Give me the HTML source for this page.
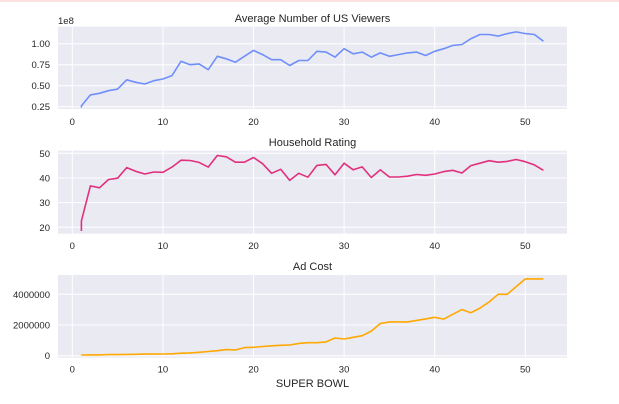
<!DOCTYPE html>
<html><head><meta charset="utf-8"><style>
body{margin:0;background:#fff;}
svg{display:block;font-family:"Liberation Sans",sans-serif;}
</style></head><body>
<svg id="c" width="619" height="404"></svg>
<script>
const superBowls=[1,1,2,3,4,5,6,7,8,9,10,11,12,13,14,15,16,17,18,19,20,21,22,23,24,25,26,27,28,29,30,31,32,33,34,35,36,37,38,39,40,41,42,43,44,45,46,47,48,49,50,51,52];
const viewers=[0.24,0.26,0.39,0.41,0.44,0.46,0.57,0.54,0.52,0.56,0.58,0.62,0.79,0.75,0.76,0.69,0.85,0.82,0.78,0.85,0.92,0.87,0.81,0.81,0.74,0.80,0.80,0.91,0.90,0.84,0.94,0.88,0.90,0.84,0.89,0.85,0.87,0.89,0.90,0.86,0.91,0.94,0.98,0.99,1.06,1.11,1.11,1.09,1.12,1.14,1.12,1.11,1.03];
const rating=[18.5,22.6,36.8,36,39.4,39.9,44.2,42.7,41.6,42.4,42.3,44.4,47.2,47.1,46.3,44.4,49.1,48.6,46.4,46.4,48.3,45.8,41.9,43.5,39,41.9,40.3,45.1,45.5,41.3,46,43.3,44.5,40.2,43.3,40.4,40.4,40.7,41.4,41.1,41.6,42.6,43.1,42,45,46,47,46.4,46.7,47.5,46.6,45.3,43.1];
const adCost=[37500,42500,54000,55000,78000,72000,86000,88000,103500,107000,110000,125000,162000,185000,222000,275000,324300,400000,368200,525000,550000,600000,645000,675000,700000,800000,850000,850000,900000,1150000,1085000,1200000,1300000,1600000,2100000,2200000,2200000,2200000,2302200,2400000,2500000,2385365,2699963,3000000,2800000,3100000,3500000,4000000,4000000,4500000,5000000,5000000,5000000];
const xTicks=[0,10,20,30,40,50];
const vTicks=[0.25,0.50,0.75,1.00];
const rTicks=[20,30,40,50];
const cTicks=[0,2000000,4000000];

const svg=document.getElementById('c');
const NS='http://www.w3.org/2000/svg';
function mk(t,a,p){const e=document.createElementNS(NS,t);for(const k in a)e.setAttribute(k,a[k]);(p||svg).appendChild(e);return e;}
mk('rect',{x:0,y:0,width:619,height:2,fill:'#fde0e0'});
const X0=58,X1=567;
function sx(v){return 72.3+v*9.06;}
function panel(name,title,titleY,top,bot,yMap,ticks,fmt,data,color,xlabY){
  const g=mk('g',{});
  
  
  const bg=mk('rect',{x:X0,y:top,width:X1-X0,height:bot-top,fill:'#eaeaf2'},g);
  
  
  xTicks.forEach(t=>{
    mk('line',{x1:sx(t),x2:sx(t),y1:top,y2:bot,stroke:'#fff','stroke-width':1},g);
    const tx=mk('text',{x:sx(t),y:xlabY,'font-size':9.5,fill:'#262626','text-anchor':'middle'},g);
    tx.textContent=t;
    
    
  });
  ticks.forEach(t=>{
    const y=yMap(t);
    mk('line',{x1:X0,x2:X1,y1:y,y2:y,stroke:'#fff','stroke-width':1},g);
    const tx=mk('text',{x:X0-8,y:y+3.5,'font-size':9.5,fill:'#262626','text-anchor':'end'},g);
    tx.textContent=fmt(t);
    
    
  });
  const tt=mk('text',{x:(X0+X1)/2,y:titleY,'font-size':11,fill:'#262626','text-anchor':'middle'},g);
  tt.textContent=title;
  
  
  const pts=superBowls.map((s,i)=>sx(s).toFixed(1)+','+yMap(data[i]).toFixed(1)).join(' ');
  const pl=mk('polyline',{points:pts,fill:'none',stroke:color,'stroke-width':1.6,'stroke-linejoin':'round'},g);
  
  
}
panel('viewers-panel','Average Number of US Viewers',22,26.7,109,v=>43.7+(1-v)*84,vTicks,t=>t.toFixed(2),viewers,'#6f8ffa',125);
const e8=mk('text',{x:58,y:24,'font-size':9.5,fill:'#262626'});
e8.textContent='1e8';


panel('rating-panel','Household Rating',146,150.7,233.7,v=>153.3+(50-v)*2.467,rTicks,t=>t,rating,'#e0307e',249);
panel('adcost-panel','Ad Cost',270,275,357.7,v=>355.7-v/1e6*15.35,cTicks,t=>t,adCost,'#ffa800',372.5);
const xl=mk('text',{x:(X0+X1)/2,y:387,'font-size':11,fill:'#262626','text-anchor':'middle'});
xl.textContent='SUPER BOWL';


</script>
</body></html>
